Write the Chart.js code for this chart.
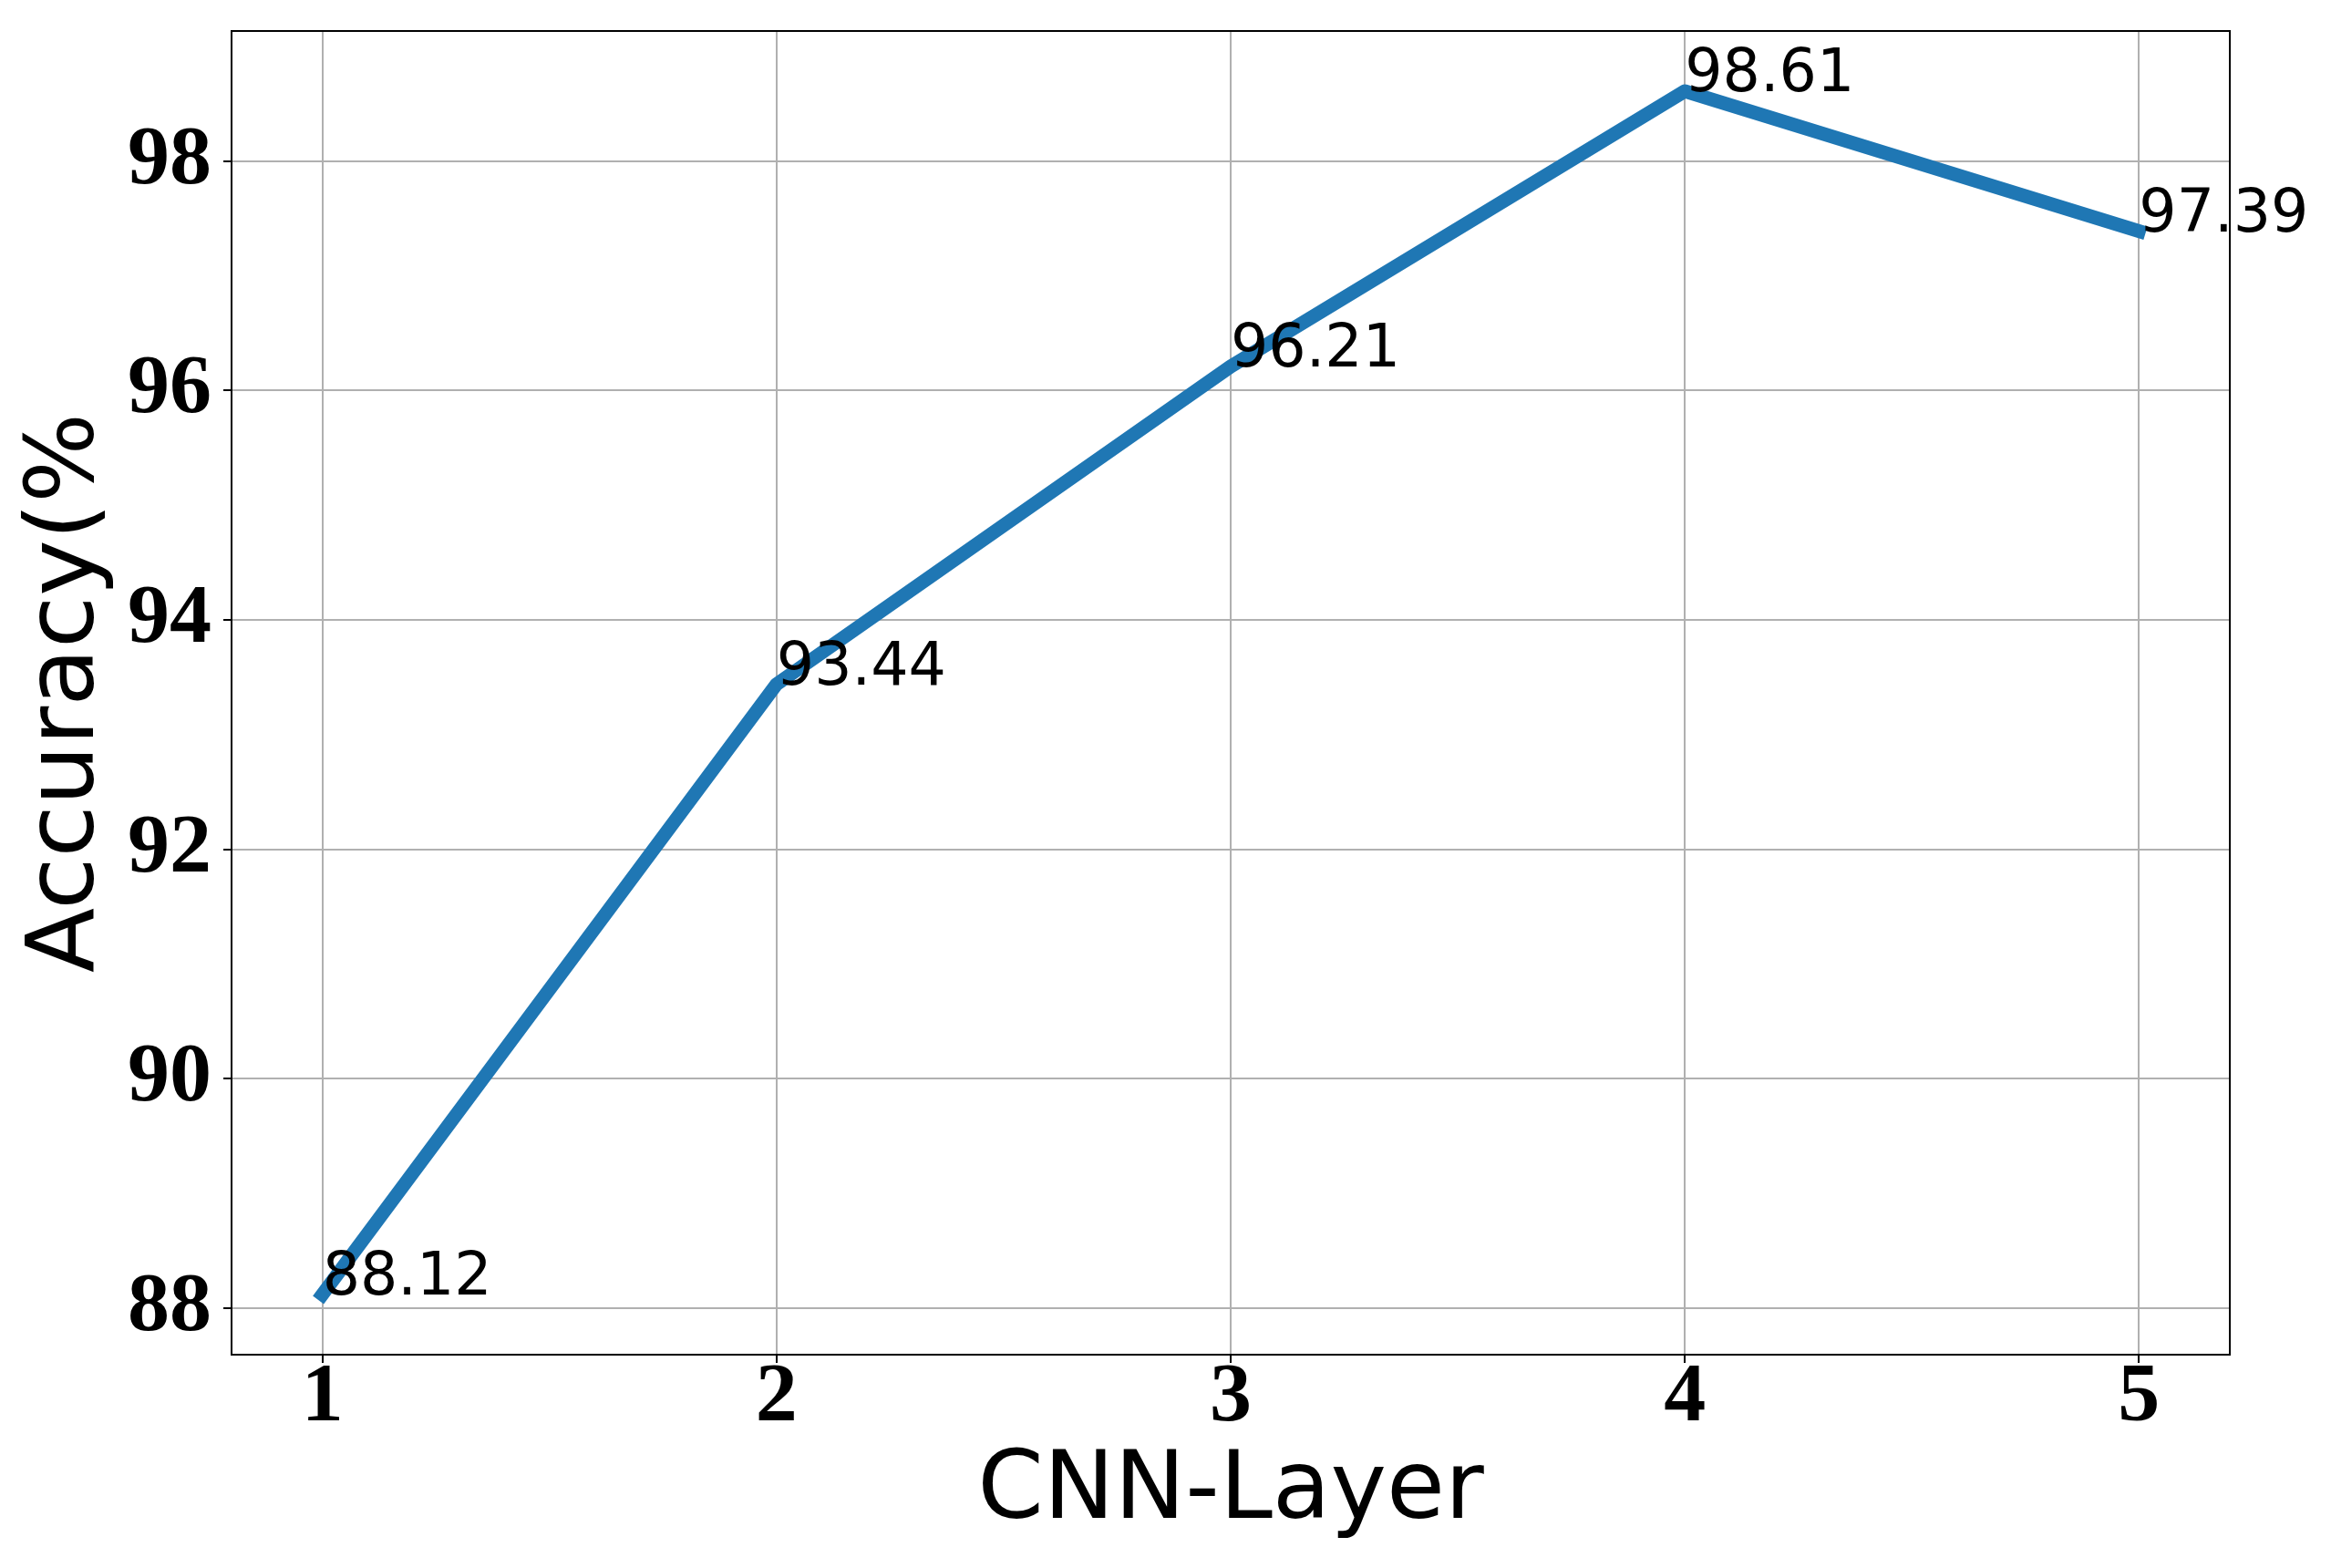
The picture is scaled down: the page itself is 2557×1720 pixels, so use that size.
<!DOCTYPE html>
<html>
<head>
<meta charset="utf-8">
<title>Accuracy vs CNN-Layer</title>
<script src="https://cdn.jsdelivr.net/npm/chart.js@4.4.0/dist/chart.umd.min.js"></script>
<style>
  html, body { margin: 0; padding: 0; background: #fff; }
  canvas { display: block; }
</style>
</head>
<body>
<canvas id="myChart" width="2557" height="1720"></canvas>
<script>
// Data
const layers = [1, 2, 3, 4, 5];
const accuracy = [88.12, 93.44, 96.21, 98.61, 97.39];
const xTicks = [1, 2, 3, 4, 5];
const yTicks = [88, 90, 92, 94, 96, 98];

const xLabel = 'CNN-Layer';
const yLabel = 'Accuracy(%';

// matplotlib-style 5% margins around the data
const xPad = (Math.max(...layers) - Math.min(...layers)) * 0.05;
const yPad = (Math.max(...accuracy) - Math.min(...accuracy)) * 0.05;

const tickFont = { family: '"Liberation Serif", "Times New Roman", serif', weight: 'bold', size: 92, lineHeight: 0.8 };
const titleFont = { family: '"DejaVu Sans", sans-serif', size: 104, lineHeight: 1 };

// value text next to each point, baseline at the point
const valueLabels = {
    id: 'valueLabels',
    afterDatasetsDraw(chart) {
        const ctx = chart.ctx;
        const meta = chart.getDatasetMeta(0);
        ctx.save();
        ctx.font = '65px "DejaVu Sans", sans-serif';
        ctx.fillStyle = '#000';
        ctx.textAlign = 'left';
        ctx.textBaseline = 'alphabetic';
        meta.data.forEach((pt, i) => {
            ctx.fillText(accuracy[i].toFixed(2), pt.x, pt.y);
        });
        ctx.restore();
    }
};

// box around the plot area (all four spines)
const frame = {
    id: 'frame',
    afterDraw(chart) {
        const { ctx, chartArea: a } = chart;
        ctx.save();
        ctx.strokeStyle = '#000';
        ctx.lineWidth = 2;
        ctx.strokeRect(a.left, a.top, a.right - a.left, a.bottom - a.top);
        ctx.restore();
    }
};

const ctx = document.getElementById('myChart').getContext('2d');
new Chart(ctx, {
    type: 'line',
    data: {
        datasets: [{
            data: layers.map((x, i) => ({ x: x, y: accuracy[i] })),
            borderColor: '#1f77b4',
            borderWidth: 15,
            borderCapStyle: 'square',
            borderJoinStyle: 'round',
            pointRadius: 0,
            fill: false,
            tension: 0
        }]
    },
    options: {
        responsive: false,
        animation: false,
        layout: { padding: { left: 0, top: 34, right: 111, bottom: 0 } },
        plugins: {
            legend: { display: false },
            tooltip: { enabled: false }
        },
        scales: {
            x: {
                type: 'linear',
                min: Math.min(...layers) - xPad,
                max: Math.max(...layers) + xPad,
                afterBuildTicks: s => { s.ticks = xTicks.map(v => ({ value: v })); },
                afterFit: s => { s.height = 234; s.paddingLeft = 0; s.paddingRight = 0; },
                ticks: {
                    font: tickFont,
                    color: '#000',
                    padding: 2,
                    maxRotation: 0,
                    callback: v => String(v)
                },
                grid: {
                    color: '#b0b0b0',
                    lineWidth: 2,
                    tickLength: 9,
                    tickColor: '#000',
                    tickWidth: 2
                },
                border: { display: false },
                title: {
                    display: true,
                    text: xLabel,
                    font: titleFont,
                    color: '#000',
                    padding: { top: 0, bottom: 30 }
                }
            },
            y: {
                type: 'linear',
                min: Math.min(...accuracy) - yPad,
                max: Math.max(...accuracy) + yPad,
                afterBuildTicks: s => { s.ticks = yTicks.map(v => ({ value: v })); },
                afterFit: s => { s.width = 254; s.paddingTop = 0; s.paddingBottom = 0; },
                ticks: {
                    font: tickFont,
                    color: '#000',
                    padding: 13,
                    callback: v => String(v)
                },
                grid: {
                    color: '#b0b0b0',
                    lineWidth: 2,
                    tickLength: 9,
                    tickColor: '#000',
                    tickWidth: 2
                },
                border: { display: false },
                title: {
                    display: true,
                    text: yLabel,
                    font: titleFont,
                    color: '#000',
                    padding: { top: 23, bottom: 0 }
                }
            }
        }
    },
    plugins: [valueLabels, frame]
});
</script>
</body>
</html>
